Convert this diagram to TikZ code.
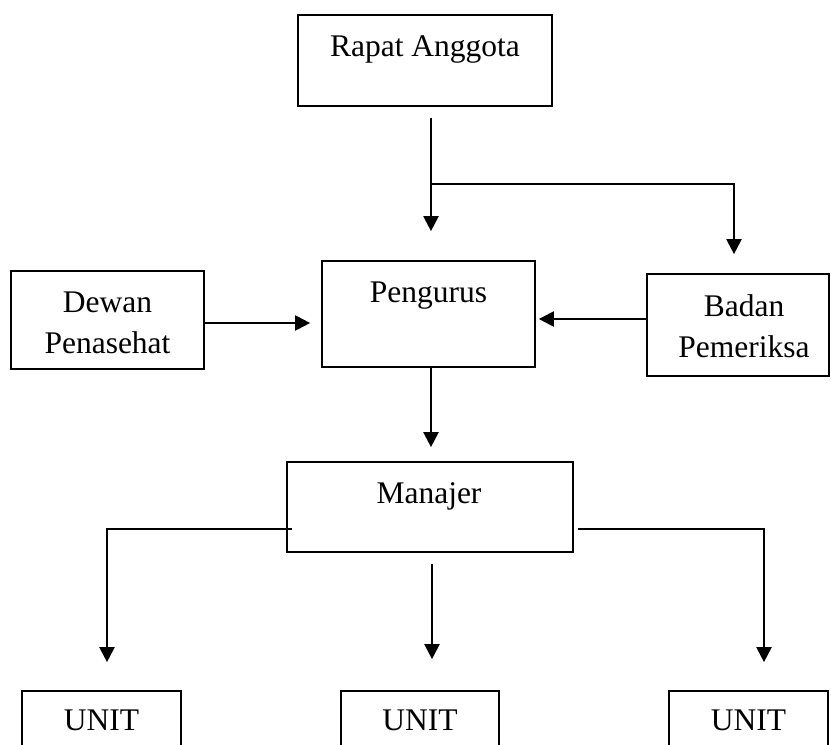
\documentclass[tikz,border=0pt]{standalone}
\usepackage{fontspec}
\setmainfont{Liberation Serif}
\usetikzlibrary{arrows.meta,calc}
\begin{document}
\begin{tikzpicture}[x=1pt,y=-1pt,
  box/.style={draw, line width=1.7pt, rectangle, inner sep=0pt},
  lbl/.style={font=\fontsize{31.5}{41}\selectfont, inner sep=0pt, align=center},
  arr/.style={line width=2.2pt, -{Triangle[length=15pt,width=15pt]}},
  ln/.style={line width=2.2pt}]
\fill[white] (0,0) rectangle (831,745);
\clip (0,0) rectangle (831,745);

% boxes
\node[box, minimum width=254pt, minimum height=91pt]  (rapat)   at (425,60.5)  {};
\node[box, minimum width=213pt, minimum height=106pt] (peng)    at (428.5,314) {};
\node[box, minimum width=193pt, minimum height=98pt]  (dewan)   at (107.5,320) {};
\node[box, minimum width=182pt, minimum height=102pt] (badan)   at (738,325)   {};
\node[box, minimum width=286pt, minimum height=90pt]  (manajer) at (430,507)   {};
\node[box, minimum width=159pt, minimum height=100pt] (unitA)   at (101.5,741) {};
\node[box, minimum width=158pt, minimum height=100pt] (unitB)   at (420,741)   {};
\node[box, minimum width=159pt, minimum height=100pt] (unitC)   at (748.5,741) {};

% texts
\node[lbl, anchor=base] (rapatT)   at (425,56)    {Rapat Anggota};
\node[lbl, anchor=base] (pengT)    at (428.5,302.5) {Pengurus};
\node[lbl, anchor=base] (dewanT)   at (107.5,353) {Dewan\\Penasehat};
\node[lbl, anchor=base] (badanT)   at (744,357) {Badan\\Pemeriksa};
\node[lbl, anchor=base] (manajerT) at (429,503)   {Manajer};
\node[lbl, anchor=base] (unitAT)   at (101.5,730.5) {UNIT};
\node[lbl, anchor=base] (unitBT)   at (420,730.5) {UNIT};
\node[lbl, anchor=base] (unitCT)   at (748.5,730.5) {UNIT};

% connectors
\coordinate (jn) at ($(rapat.south)+(6,77)$);
\draw[arr] ($(rapat.south)+(6,11)$) -- ($(peng.north)+(2.5,-29)$);
\draw[arr] (jn) -| ($(badan.north)+(-4,-19)$);
\draw[arr] ($(dewan.east)+(0,3)$) -- ($(peng.west)+(-11,9)$);
\draw[arr] ($(badan.west)+(0,-6)$) -- ($(peng.east)+(3,5)$);
\draw[arr] ($(peng.south)+(2.5,0)$) -- ($(manajer.north)+(1,-14)$);
\draw[arr] ($(manajer.west)+(6,22)$) -| ($(unitA.north)+(5.5,-28)$);
\draw[arr] ($(manajer.east)+(4,22)$) -| ($(unitC.north)+(15.5,-28)$);
\draw[arr] ($(manajer.south)+(2,11)$) -- ($(unitB.north)+(12,-31)$);
\end{tikzpicture}
\end{document}
